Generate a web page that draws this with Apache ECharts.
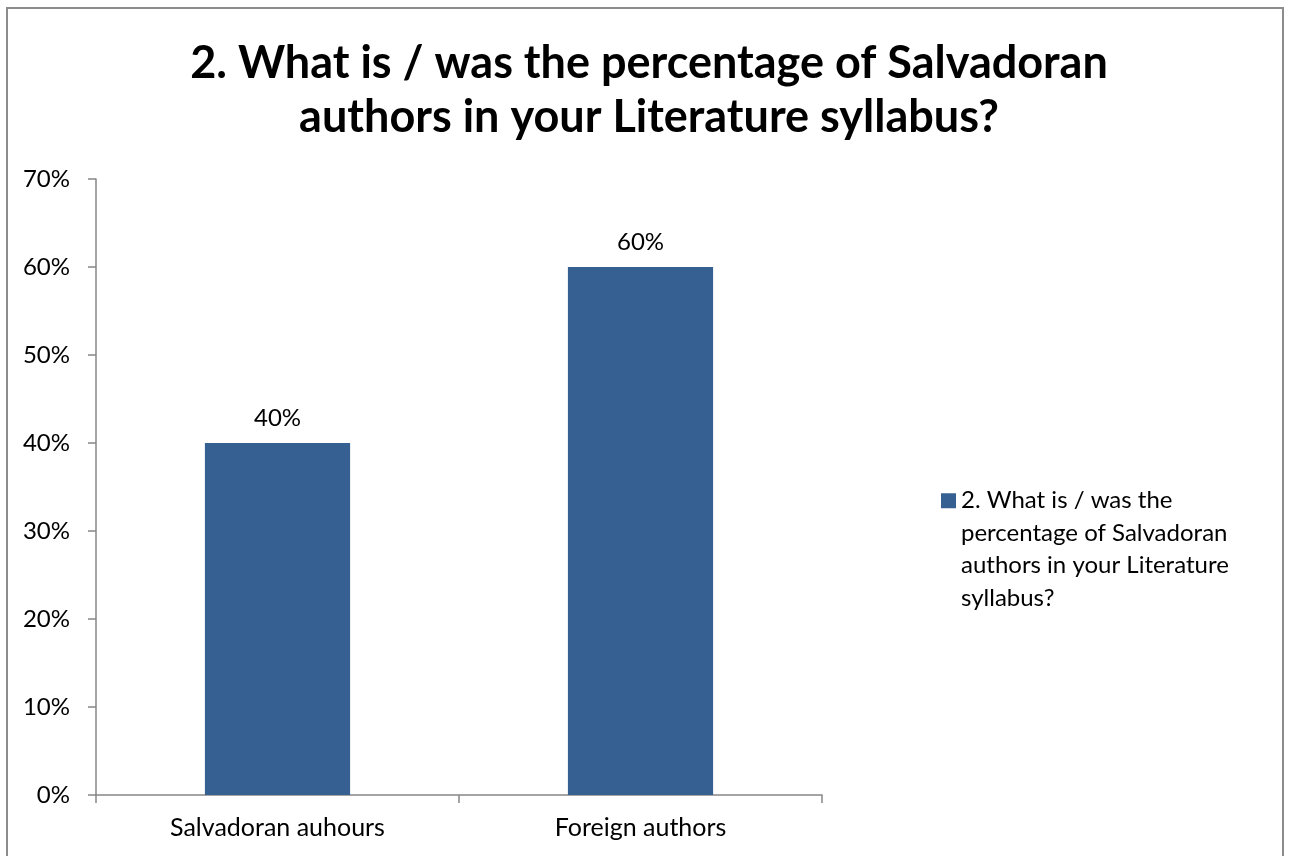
<!DOCTYPE html>
<html>
<head>
<meta charset="utf-8">
<title>Salvadoran authors in the Literature syllabus</title>
<script src="https://cdn.jsdelivr.net/npm/echarts@6/dist/echarts.min.js"></script>
<style>
  html, body { margin: 0; padding: 0; background: #ffffff; }
  #chart { width: 1291px; height: 856px; }
</style>
</head>
<body>
<div id="chart"></div>
<script>
// Survey question and answers
const seriesName = '2. What is / was the percentage of Salvadoran authors in your Literature syllabus?';
const titleLines = ['2. What is / was the percentage of Salvadoran', 'authors in your Literature syllabus?'];
const legendLines = ['2. What is / was the', 'percentage of Salvadoran', 'authors in your Literature', 'syllabus?'];
const categories = ['Salvadoran auhours', 'Foreign authors'];
const percentValues = [40, 60];
const yAxisMax = 70;
const yAxisStep = 10;

const FONT = 'Lato, "Open Sans", "Noto Sans", sans-serif';
const AXIS_GREY = '#868686';
const BAR_BLUE = '#376092';
const LEGEND_LINE = 32.5;
const SMALL_SIZE = 24;

const chart = echarts.init(document.getElementById('chart'), null, { renderer: 'canvas' });

// The legend text is vertically centred on its square; blank lines in front
// of it put the first text line level with the square instead.
const legendText = '\n'.repeat(legendLines.length - 1) + legendLines.join('\n');

chart.setOption({
  backgroundColor: '#ffffff',
  animation: false,
  textStyle: { fontFamily: FONT, color: '#000000' },
  title: {
    text: titleLines.join('\n'),
    left: 644,
    top: 31,
    textAlign: 'center',
    textStyle: {
      fontFamily: FONT,
      fontWeight: 'bold',
      fontSize: 45,
      lineHeight: 54,
      color: '#000000'
    }
  },
  legend: {
    data: [seriesName],
    orient: 'vertical',
    left: 941,
    top: 387,
    padding: 0,
    icon: 'rect',
    itemWidth: 15,
    itemHeight: 15,
    selectedMode: false,
    formatter: () => legendText,
    textStyle: {
      fontFamily: FONT,
      fontSize: SMALL_SIZE,
      lineHeight: LEGEND_LINE,
      color: '#000000'
    }
  },
  grid: {
    left: 96,
    right: 469,
    top: 179,
    bottom: 61
  },
  xAxis: {
    type: 'category',
    data: categories,
    boundaryGap: true,
    axisLine: { show: true, lineStyle: { color: AXIS_GREY, width: 1.5 } },
    axisTick: { show: true, length: 8, lineStyle: { color: AXIS_GREY, width: 1.5 } },
    axisLabel: {
      fontFamily: FONT,
      fontSize: 25,
      color: '#000000',
      margin: 20
    },
    splitLine: { show: false }
  },
  yAxis: {
    type: 'value',
    min: 0,
    max: yAxisMax,
    interval: yAxisStep,
    axisLine: { show: true, lineStyle: { color: AXIS_GREY, width: 1.5 } },
    axisTick: { show: true, length: 8, inside: false, lineStyle: { color: AXIS_GREY, width: 1.5 } },
    axisLabel: {
      fontFamily: FONT,
      fontSize: SMALL_SIZE,
      color: '#000000',
      margin: 26,
      formatter: '{value}%'
    },
    splitLine: { show: false }
  },
  series: [{
    name: seriesName,
    type: 'bar',
    data: percentValues,
    barWidth: '40%',
    itemStyle: { color: BAR_BLUE },
    label: {
      show: true,
      position: 'top',
      distance: 13,
      fontFamily: FONT,
      fontSize: SMALL_SIZE,
      color: '#000000',
      formatter: '{c}%'
    }
  }],
  graphic: [{
    type: 'rect',
    shape: { x: 7, y: 8, width: 1276, height: 900 },
    style: { fill: 'none', stroke: '#8c8c8c', lineWidth: 2 },
    silent: true,
    z: 100
  }]
});
</script>
</body>
</html>
